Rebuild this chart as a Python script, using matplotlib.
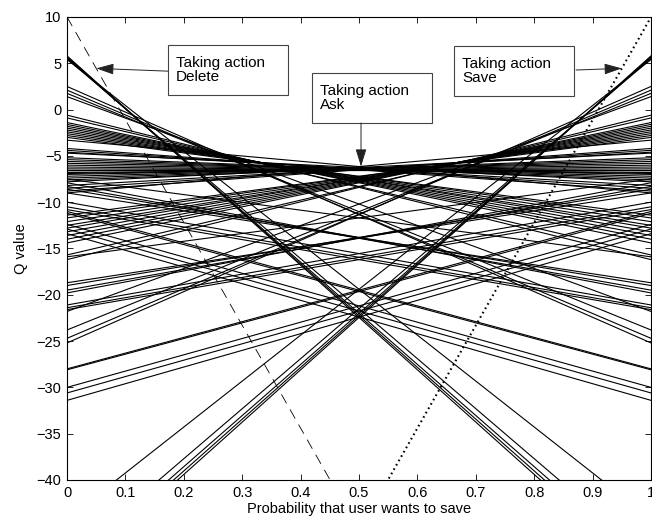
import numpy as np
import matplotlib
matplotlib.use("Agg")
import matplotlib.pyplot as plt
from matplotlib.patches import Rectangle

plt.rcParams['font.family'] = ['Liberation Sans', 'DejaVu Sans']
plt.rcParams['lines.scale_dashes'] = False

# Q-value lines, given as (value at p=0, value at p=1).
# Each line also appears mirrored, so only half of them are listed.
steep_q0 = [5.8, 5.7, 5.6, 5.5, 5.4]
steep_q1 = [-50.7, -50.2, -49.6, -48.5, -44.2]

ask_q0 = [2.5, 2.1, 1.75, 1.4,
          -0.6, -0.9,
          -1.4, -1.6, -1.8, -2.0, -2.2, -2.4, -2.6, -2.8, -3.0,
          -3.3, -4.2, -4.4, -4.6, -4.7,
          -5.2, -5.4, -5.6, -5.8, -6.0, -6.2, -6.4, -6.5,
          -28.0, -28.1, -30.0, -30.6, -31.4,
          -18.7, -19.0, -19.5, -19.8,
          -21.1, -21.4, -21.6, -15.9]
ask_q1 = [-25.2, -24.7, -23.8, -21.8,
          -16.2, -15.7,
          -14.4, -14.0, -13.6, -13.2, -12.8, -12.5, -12.1, -11.7, -11.4,
          -9.0, -8.8, -8.5, -8.2, -7.8,
          -7.6, -7.4, -7.2, -7.0, -6.9, -6.8, -6.6, -6.5,
          -11.0, -11.2, -12.4, -12.9, -13.4,
          -9.0, -8.6, -8.3, -7.9,
          -10.0, -10.5, -10.8, -7.5]

# single lines for the immediate actions
delete_q = (10.0, -101.0)
save_q = (-101.0, 10.0)

p = np.array([0.0, 1.0])

fig = plt.figure(figsize=(6.52, 5.21), dpi=100)
ax = fig.add_axes([0.1028, 0.0787, 0.8957, 0.8887])

q0_all = np.array(steep_q0 + ask_q0)
q1_all = np.array(steep_q1 + ask_q1)
for a, b in zip(q0_all, q1_all):
    ax.plot(p, [a, b], color='k', lw=0.8)
    ax.plot(p, [b, a], color='k', lw=0.8)

ax.plot(p, delete_q, color='k', lw=0.6, linestyle=(0, (7.5, 5)))
ax.plot(p, save_q, color='k', lw=1.5, linestyle=(0, (1.2, 2.4)))

ax.set_xlim(0, 1)
ax.set_ylim(-40, 10)
ax.set_xticks(np.arange(0, 1.01, 0.1))
ax.set_xticklabels(['0', '0.1', '0.2', '0.3', '0.4', '0.5', '0.6', '0.7',
                    '0.8', '0.9', '1'])
ax.set_yticks(np.arange(-40, 11, 5))
ax.tick_params(direction='in', top=True, right=True, length=4.5, width=0.6,
               labelsize=10.5, pad=4)
for s in ax.spines.values():
    s.set_linewidth(0.8)

ax.set_xlabel('Probability that user wants to save', fontsize=10.5, labelpad=2)
ax.set_ylabel('Q value', fontsize=10.5, labelpad=6)


def interp(q, x):
    return q[0] + (q[1] - q[0]) * x


# envelope value at p=0.5 for the Ask arrow
env_mid = max(0.5 * (a + b) for a, b in zip(q0_all, q1_all))

boxes = [
    ("Taking action\nDelete", (0.173, 0.8315), (0.173, 0.883),
     (0.05, interp(delete_q, 0.05))),
    ("Taking action\nAsk", (0.4195, 0.771), (0.5034, 0.771),
     (0.5034, env_mid)),
    ("Taking action\nSave", (0.6627, 0.829), (0.8717, 0.8855),
     (0.95, interp(save_q, 0.95))),
]
for label, (bx, by), start, target in boxes:
    ax.add_patch(Rectangle((bx, by), 0.2055, 0.108, transform=ax.transAxes,
                           facecolor='white', edgecolor='#444444', lw=0.8,
                           zorder=5))
    ax.text(bx + 0.0137, by + 0.054, label, transform=ax.transAxes,
            ha='left', va='center', fontsize=11, linespacing=1.05, zorder=6)
    ax.annotate('', xy=target, xycoords='data', xytext=start,
                textcoords='axes fraction',
                arrowprops=dict(arrowstyle='-|>,head_length=0.9,head_width=0.28',
                                color='#222222', lw=0.7, shrinkA=0, shrinkB=0,
                                mutation_scale=12),
                zorder=6)

fig.savefig('out.png', dpi=100)
